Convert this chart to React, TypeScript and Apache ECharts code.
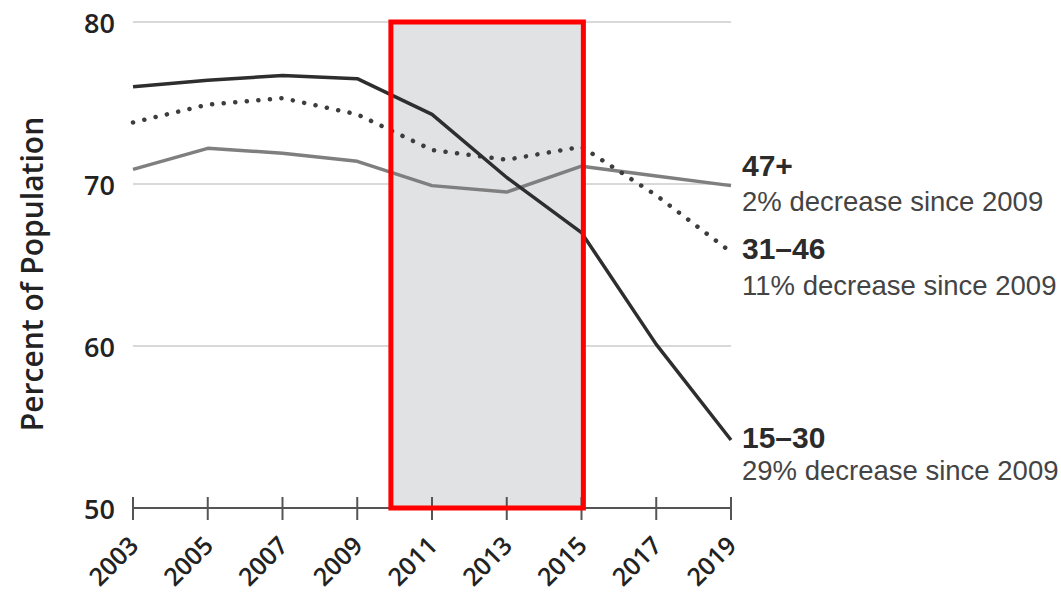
import React, { useEffect, useRef } from "react";
import * as echarts from "echarts";

const BASE_YEAR = 2003;
const years = [2003, 2005, 2007, 2009, 2011, 2013, 2015, 2017, 2019];
const age15to30 = [76.0, 76.4, 76.7, 76.5, 74.3, 70.4, 67.0, 60.1, 54.2];
const age31to46 = [73.8, 74.9, 75.3, 74.3, 72.1, 71.5, 72.3, 69.3, 65.8];
const age47plus = [70.9, 72.2, 71.9, 71.4, 69.9, 69.5, 71.1, 70.5, 69.9];
const shadedYears = [2009.9, 2015.05];
const yMin = 50;
const yMax = 80;
const yStep = 10;
const yTitle = "Percent of Population";
const groupLabels = ["47+", "31\u201346", "15\u201330"];
const groupNotes = [
  "2% decrease since 2009",
  "11% decrease since 2009",
  "29% decrease since 2009",
];

const toPoints = (vals: number[]) => years.map((y, i) => [y - BASE_YEAR, vals[i]]);

export default function App() {
  const ref = useRef<HTMLDivElement>(null);
  useEffect(() => {
    if (!ref.current) return;
    const chart = echarts.init(ref.current, undefined, { renderer: "svg" });
    const xSpan = years[years.length - 1] - BASE_YEAR;
    const area = [
      [
        { xAxis: shadedYears[0] - BASE_YEAR, yAxis: yMax },
        { xAxis: shadedYears[1] - BASE_YEAR, yAxis: yMin },
      ],
    ];
    const axisFont = "'Open Sans', Lato, sans-serif";
    const noteFont = "'Liberation Sans', Arial, sans-serif";
    chart.setOption({
      animation: false,
      backgroundColor: "#ffffff",
      grid: { left: 133, right: 330, top: 22, bottom: 90, containLabel: false },
      xAxis: {
        type: "value",
        min: 0,
        max: xSpan,
        interval: 2,
        position: "bottom",
        axisLine: { show: true, onZero: false, lineStyle: { color: "#555555", width: 2 } },
        axisTick: { show: false },
        axisLabel: {
          rotate: 45,
          margin: 32,
          color: "#222222",
          fontFamily: axisFont,
          fontWeight: 600,
          fontSize: 25,
          formatter: (v: number) => String(v + BASE_YEAR),
        },
        splitLine: { show: false },
      },
      yAxis: {
        type: "value",
        min: yMin,
        max: yMax,
        interval: yStep,
        axisLine: { show: false },
        axisTick: { show: false },
        axisLabel: {
          margin: 18,
          color: "#222222",
          fontFamily: axisFont,
          fontWeight: 600,
          fontSize: 27,
        },
        splitLine: { show: true, lineStyle: { color: "#d9d9d9", width: 2 } },
      },
      series: [
        {
          type: "line",
          data: [],
          z: 1,
          markArea: {
            silent: true,
            z: 1,
            itemStyle: { color: "#e1e2e4", borderWidth: 0 },
            data: area,
          },
        },
        {
          name: "ticks",
          type: "custom",
          silent: true,
          z: 5,
          data: years.map((y) => [y - BASE_YEAR, yMin]),
          renderItem: (params: any, api: any) => {
            const p = api.coord([api.value(0), api.value(1)]);
            return {
              type: "line",
              shape: { x1: p[0], y1: p[1] - 11, x2: p[0], y2: p[1] + 12 },
              style: { stroke: "#555555", lineWidth: 2 },
            };
          },
        },
        {
          name: "47+",
          type: "line",
          data: toPoints(age47plus),
          showSymbol: false,
          symbol: "none",
          z: 3,
          lineStyle: { color: "#7f7f7f", width: 3.5 },
        },
        {
          name: "31-46",
          type: "line",
          data: toPoints(age31to46),
          showSymbol: false,
          symbol: "none",
          z: 3,
          lineStyle: { color: "#3d3d3d", width: 4.5, type: [0.1, 11.5], cap: "round" },
        },
        {
          name: "15-30",
          type: "line",
          data: toPoints(age15to30),
          showSymbol: false,
          symbol: "none",
          z: 4,
          lineStyle: { color: "#2e2e2e", width: 3.5 },
        },
        {
          type: "line",
          data: [],
          z: 10,
          markArea: {
            silent: true,
            z: 10,
            itemStyle: { color: "rgba(0,0,0,0)", borderColor: "#ff0000", borderWidth: 5 },
            data: area,
          },
        },
      ],
      graphic: [
        {
          type: "text",
          x: 31,
          y: 274,
          rotation: Math.PI / 2,
          style: {
            text: yTitle,
            font: `600 30px ${axisFont}`,
            fill: "#222222",
            align: "center",
            verticalAlign: "middle",
          },
        },
        { type: "text", x: 742, y: 165, style: { text: groupLabels[0], font: `bold 30px ${noteFont}`, fill: "#2b2b2b", verticalAlign: "middle" } },
        { type: "text", x: 742, y: 201, style: { text: groupNotes[0], font: `27.5px ${noteFont}`, fill: "#444444", verticalAlign: "middle" } },
        { type: "text", x: 742, y: 248, style: { text: groupLabels[1], font: `bold 30px ${noteFont}`, fill: "#2b2b2b", verticalAlign: "middle" } },
        { type: "text", x: 742, y: 285, style: { text: groupNotes[1], font: `27.5px ${noteFont}`, fill: "#444444", verticalAlign: "middle" } },
        { type: "text", x: 742, y: 437, style: { text: groupLabels[2], font: `bold 30px ${noteFont}`, fill: "#2b2b2b", verticalAlign: "middle" } },
        { type: "text", x: 742, y: 470, style: { text: groupNotes[2], font: `27.5px ${noteFont}`, fill: "#444444", verticalAlign: "middle" } },
      ],
    });
    return () => chart.dispose();
  }, []);
  return (
    <div
      ref={ref}
      style={{ position: "fixed", left: 0, top: 0, width: 1061, height: 598, background: "#fff" }}
    />
  );
}
